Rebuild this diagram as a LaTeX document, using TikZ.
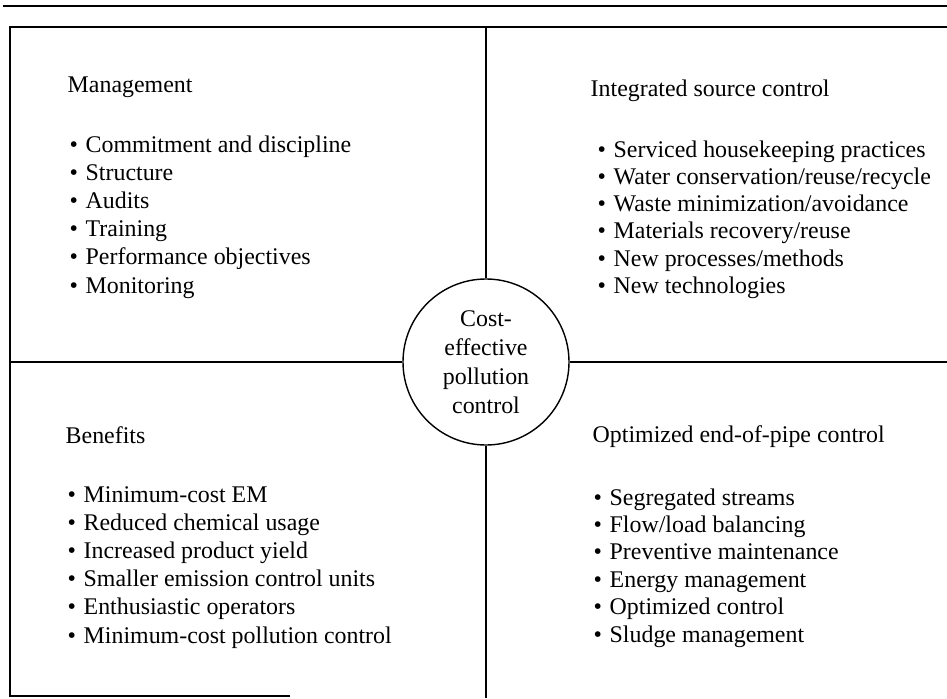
\documentclass[tikz,border=0pt]{standalone}
\usepackage{fontspec}
\setmainfont{Liberation Serif}
\usetikzlibrary{positioning}
\newcommand{\itembul}{\makebox[0.32cm][l]{\textbullet}}

\begin{document}
\begin{tikzpicture}[line width=0.8pt,
		txt/.style={anchor=base west, inner sep=0pt, font=\fontsize{13.6}{16}\selectfont},
		entry/.style={txt}]
	\useasboundingbox (0,0) rectangle (18.94,13.96);
	% frame
	\coordinate (rl) at (0.06,13.84);
	\coordinate (rr) at (18.94,13.84);
	\coordinate (tl) at (0.2,13.42);
	\coordinate (tm) at (9.72,13.42);
	\coordinate (tr) at (18.94,13.42);
	\coordinate (bl) at (0.2,0.04);
	\coordinate (bm) at (9.72,0);
	\coordinate (be) at (5.8,0.04);
	\node[draw, circle, minimum size=3.32cm, inner sep=0pt, align=center,
		font=\fontsize{13.6}{16.4}\selectfont] (hub) at (9.72,6.72) {Cost-\\effective\\pollution\\control};
	\coordinate (ml) at (hub.west -| tl);
	\coordinate (mr) at (hub.east -| tr);
	\draw (rl) -- (rr);
	\draw (be) -- (bl) -- (tl) -- (tr);
	\draw (tm) -- (hub.north);
	\draw (hub.south) -- (bm);
	\draw (ml) -- (hub.west);
	\draw (hub.east) -- (mr);
	% quadrants
	\node[txt] (mgt) at (1.34,12.1) {Management};
	\foreach \t [count=\i] in {Commitment and discipline, Structure, Audits, Training, Performance objectives, Monitoring}
		\node[entry] (mgt\i) at (1.38,{11.484-0.564*\i}) {\itembul\t};
	\node[txt] (isc) at (11.8,12.02) {Integrated source control};
	\foreach \t [count=\i] in {Serviced housekeeping practices, Water conservation/reuse/recycle, Waste minimization/avoidance, Materials recovery/reuse, New processes/methods, New technologies}
		\node[entry] (isc\i) at (11.94,{11.366-0.546*\i}) {\itembul\t};
	\node[txt] (ben) at (1.3,5.1) {Benefits};
	\foreach \t [count=\i] in {Minimum-cost EM, Reduced chemical usage, Increased product yield, Smaller emission control units, Enthusiastic operators, Minimum-cost pollution control}
		\node[entry] (ben\i) at (1.34,{4.484-0.564*\i}) {\itembul\t};
	\node[txt] (eop) at (11.84,5.12) {Optimized end-of-pipe control};
	\foreach \t [count=\i] in {Segregated streams, Flow/load balancing, Preventive maintenance, Energy management, Optimized control, Sludge management}
		\node[entry] (eop\i) at (11.86,{4.408-0.548*\i}) {\itembul\t};
\end{tikzpicture}
\end{document}
